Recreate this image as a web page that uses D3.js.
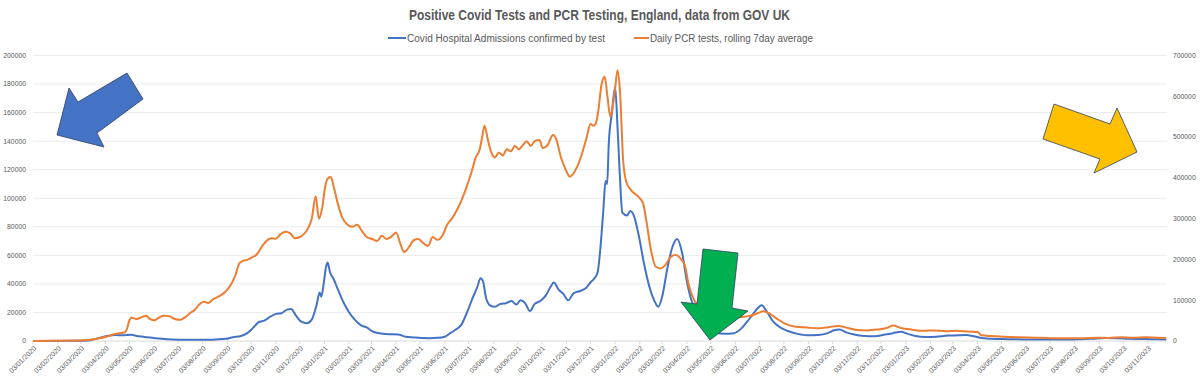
<!DOCTYPE html>
<html><head><meta charset="utf-8">
<script src="https://cdn.jsdelivr.net/npm/d3@7"></script>
<style>
html,body{margin:0;padding:0;background:#fff;}
svg{display:block;font-family:"Liberation Sans","DejaVu Sans",sans-serif;}
</style></head>
<body><svg id="c" width="1200" height="381"></svg>
<script>
const titleText = "Positive Covid Tests and PCR Testing, England, data from GOV UK";
const seriesNames = ["Covid Hospital Admissions confirmed by test", "Daily PCR tests, rolling 7day average"];
const leftTicks = [0,20000,40000,60000,80000,100000,120000,140000,160000,180000,200000];
const rightTicks = [0,100000,200000,300000,400000,500000,600000,700000];

// blue series (left axis)
const hospitalSeries = [
["2020-01-03",0],["2020-03-01",100],["2020-03-15",600],["2020-03-25",2000],["2020-04-05",3500],["2020-04-15",4200],["2020-04-25",4000],["2020-05-05",4300],["2020-05-15",3300],["2020-05-25",2600],["2020-06-05",1900],["2020-06-20",1200],["2020-07-05",900],["2020-07-20",800],["2020-08-05",900],["2020-08-20",1100],["2020-09-01",1500],["2020-09-10",2700],["2020-09-20",3500],["2020-09-28",5500],["2020-10-05",9000],["2020-10-12",13000],["2020-10-20",14500],["2020-10-27",17000],["2020-11-03",19000],["2020-11-10",19500],["2020-11-17",22000],["2020-11-22",22500],["2020-11-28",18000],["2020-12-05",13500],["2020-12-12",12500],["2020-12-18",15000],["2020-12-24",25000],["2020-12-28",34000],["2020-12-30",31000],["2021-01-02",40000],["2021-01-05",52000],["2021-01-07",55000],["2021-01-10",48000],["2021-01-14",44000],["2021-01-20",36000],["2021-01-27",27000],["2021-02-03",20000],["2021-02-10",15000],["2021-02-18",11000],["2021-02-25",9500],["2021-03-05",6500],["2021-03-15",5300],["2021-03-25",4700],["2021-04-05",4600],["2021-04-15",3000],["2021-04-25",2500],["2021-05-05",2100],["2021-05-15",2000],["2021-05-25",2200],["2021-06-03",3000],["2021-06-10",5500],["2021-06-17",8000],["2021-06-24",11500],["2021-07-01",20000],["2021-07-08",30000],["2021-07-14",38000],["2021-07-18",44000],["2021-07-21",42000],["2021-07-25",30000],["2021-07-30",25000],["2021-08-05",24000],["2021-08-12",26000],["2021-08-19",26500],["2021-08-26",28000],["2021-09-01",25500],["2021-09-06",28500],["2021-09-12",26500],["2021-09-18",21000],["2021-09-24",26000],["2021-10-01",28000],["2021-10-08",32000],["2021-10-14",38000],["2021-10-18",41000],["2021-10-24",36000],["2021-10-30",33000],["2021-11-05",28500],["2021-11-12",33500],["2021-11-20",35000],["2021-11-27",37000],["2021-12-03",41000],["2021-12-08",44000],["2021-12-12",48000],["2021-12-15",62000],["2021-12-19",90000],["2021-12-22",112000],["2021-12-24",110000],["2021-12-26",138000],["2021-12-30",160000],["2022-01-03",178000],["2022-01-06",150000],["2022-01-09",115000],["2022-01-12",90000],["2022-01-18",88000],["2022-01-22",91000],["2022-01-27",87000],["2022-02-02",73000],["2022-02-08",55000],["2022-02-15",38000],["2022-02-21",28500],["2022-02-26",24000],["2022-03-03",31000],["2022-03-10",52000],["2022-03-16",66000],["2022-03-22",71500],["2022-03-28",62000],["2022-04-03",42000],["2022-04-08",30000],["2022-04-14",22000],["2022-04-22",14000],["2022-05-01",8500],["2022-05-10",6000],["2022-05-20",5000],["2022-06-01",5500],["2022-06-10",8500],["2022-06-17",13000],["2022-06-24",18000],["2022-07-01",23000],["2022-07-06",25000],["2022-07-12",21000],["2022-07-20",14000],["2022-07-28",10000],["2022-08-08",7000],["2022-08-20",5000],["2022-09-01",4000],["2022-09-15",4200],["2022-09-27",5500],["2022-10-05",7500],["2022-10-12",8000],["2022-10-20",6000],["2022-10-30",4500],["2022-11-12",3500],["2022-11-25",3300],["2022-12-08",4500],["2022-12-18",5500],["2022-12-28",6500],["2023-01-05",5000],["2023-01-15",3500],["2023-01-28",2800],["2023-02-10",3000],["2023-02-25",3800],["2023-03-10",4000],["2023-03-20",4200],["2023-03-28",3500],["2023-04-06",2300],["2023-04-20",1600],["2023-05-10",1300],["2023-06-01",1100],["2023-07-01",1000],["2023-08-01",1100],["2023-08-25",1600],["2023-09-10",2100],["2023-09-25",2000],["2023-10-10",1600],["2023-10-25",1400],["2023-11-10",1200],["2023-11-26",1100]
];

// orange series (right axis)
const pcrSeries = [
["2020-01-03",0],["2020-03-01",1000],["2020-03-15",3000],["2020-03-25",6000],["2020-04-05",11000],["2020-04-15",17000],["2020-04-20",19000],["2020-04-27",21000],["2020-04-30",30000],["2020-05-03",50000],["2020-05-06",57000],["2020-05-12",54000],["2020-05-18",58000],["2020-05-24",62000],["2020-05-28",55000],["2020-06-03",51000],["2020-06-09",57000],["2020-06-15",62000],["2020-06-22",61000],["2020-06-29",54000],["2020-07-06",52000],["2020-07-12",58000],["2020-07-18",68000],["2020-07-24",76000],["2020-07-30",90000],["2020-08-05",96000],["2020-08-10",93000],["2020-08-16",102000],["2020-08-22",108000],["2020-08-28",115000],["2020-09-03",126000],["2020-09-08",140000],["2020-09-13",160000],["2020-09-18",190000],["2020-09-22",196000],["2020-09-28",199000],["2020-10-04",205000],["2020-10-10",212000],["2020-10-16",230000],["2020-10-22",245000],["2020-10-28",252000],["2020-11-03",251000],["2020-11-09",262000],["2020-11-15",268000],["2020-11-21",264000],["2020-11-27",252000],["2020-12-03",255000],["2020-12-08",262000],["2020-12-13",275000],["2020-12-18",300000],["2020-12-23",355000],["2020-12-27",300000],["2020-12-31",325000],["2021-01-04",380000],["2021-01-08",400000],["2021-01-11",402000],["2021-01-15",375000],["2021-01-20",335000],["2021-01-26",300000],["2021-02-01",285000],["2021-02-07",280000],["2021-02-13",285000],["2021-02-19",270000],["2021-02-25",255000],["2021-03-04",250000],["2021-03-10",245000],["2021-03-16",258000],["2021-03-22",250000],["2021-03-28",256000],["2021-04-03",266000],["2021-04-08",240000],["2021-04-13",218000],["2021-04-19",230000],["2021-04-25",247000],["2021-05-01",250000],["2021-05-07",240000],["2021-05-13",233000],["2021-05-19",255000],["2021-05-25",248000],["2021-05-31",258000],["2021-06-06",285000],["2021-06-12",300000],["2021-06-18",320000],["2021-06-24",345000],["2021-06-30",375000],["2021-07-06",410000],["2021-07-12",450000],["2021-07-17",470000],["2021-07-20",500000],["2021-07-23",528000],["2021-07-27",495000],["2021-07-31",465000],["2021-08-05",450000],["2021-08-10",462000],["2021-08-15",455000],["2021-08-20",470000],["2021-08-25",465000],["2021-08-30",478000],["2021-09-04",470000],["2021-09-09",480000],["2021-09-14",490000],["2021-09-19",478000],["2021-09-24",490000],["2021-09-30",493000],["2021-10-04",473000],["2021-10-10",480000],["2021-10-17",505000],["2021-10-21",495000],["2021-10-27",450000],["2021-11-02",420000],["2021-11-07",403000],["2021-11-13",415000],["2021-11-20",445000],["2021-11-24",470000],["2021-11-28",497000],["2021-12-03",532000],["2021-12-07",528000],["2021-12-10",535000],["2021-12-13",566000],["2021-12-17",630000],["2021-12-21",648000],["2021-12-24",605000],["2021-12-28",550000],["2021-12-31",575000],["2022-01-03",620000],["2022-01-06",664000],["2022-01-09",615000],["2022-01-13",445000],["2022-01-17",390000],["2022-01-23",370000],["2022-02-01",354000],["2022-02-07",338000],["2022-02-11",297000],["2022-02-17",223000],["2022-02-23",182000],["2022-03-01",178000],["2022-03-07",186000],["2022-03-14",207000],["2022-03-20",211000],["2022-03-27",200000],["2022-04-01",182000],["2022-04-05",141000],["2022-04-10",110000],["2022-04-17",85000],["2022-04-27",65000],["2022-05-10",52000],["2022-05-25",50000],["2022-06-08",58000],["2022-06-20",61000],["2022-07-01",68000],["2022-07-08",73000],["2022-07-16",67000],["2022-07-25",55000],["2022-08-05",42000],["2022-08-18",35000],["2022-09-01",33000],["2022-09-15",31000],["2022-09-28",34000],["2022-10-10",37000],["2022-10-22",32000],["2022-11-03",27000],["2022-11-15",26000],["2022-11-28",28000],["2022-12-10",32000],["2022-12-18",38000],["2022-12-28",32000],["2023-01-10",28000],["2023-01-25",25000],["2023-02-08",26000],["2023-02-22",24000],["2023-03-08",25000],["2023-03-22",23000],["2023-04-03",22000],["2023-04-08",14000],["2023-04-20",12000],["2023-05-05",10500],["2023-05-25",9000],["2023-06-15",8000],["2023-07-05",7000],["2023-07-25",6500],["2023-08-15",7000],["2023-09-01",8000],["2023-09-15",7500],["2023-10-01",9500],["2023-10-15",8000],["2023-11-01",9000],["2023-11-15",8000],["2023-11-26",7500]
];

const parse = d3.utcParse("%Y-%m-%d");
const fmt = d3.utcFormat("%d/%m/%Y");
const svg = d3.select("#c");
const L = 33, R = 1167, B = 341, T = 55.5;
const x = d3.scaleUtc().domain([parse("2020-01-03"), parse("2023-11-27")]).range([L, R]);
const yL = d3.scaleLinear().domain([0, 200000]).range([B, T]);
const yR = d3.scaleLinear().domain([0, 700000]).range([B, T]);
const labelColor = "#595959";

// gridlines
svg.append("g").selectAll("line").data(leftTicks.slice(1)).join("line")
  .attr("x1", L).attr("x2", R).attr("y1", d => yL(d)).attr("y2", d => yL(d))
  .attr("stroke", "#ebebeb").attr("stroke-width", 1);
svg.append("line").attr("x1", L).attr("x2", R).attr("y1", B).attr("y2", B)
  .attr("stroke", "#d9d9d9").attr("stroke-width", 1);

// left axis labels
svg.append("g").selectAll("text").data(leftTicks).join("text")
  .attr("x", 26).attr("y", d => yL(d)).attr("dy", "0.35em")
  .attr("text-anchor", "end").attr("font-size", 6.8).attr("fill", labelColor)
  .text(d => d);
// right axis labels
svg.append("g").selectAll("text").data(rightTicks).join("text")
  .attr("x", 1173).attr("y", d => yR(d)).attr("dy", "0.35em")
  .attr("text-anchor", "start").attr("font-size", 6.8).attr("fill", labelColor)
  .text(d => d);

// x ticks: 3rd of each month
const xTicks = d3.utcMonth.range(parse("2020-01-01"), parse("2023-11-02")).map(d => d3.utcDay.offset(d, 2));
svg.append("g").selectAll("line").data(xTicks).join("line")
  .attr("x1", d => x(d)).attr("x2", d => x(d)).attr("y1", B).attr("y2", B + 3)
  .attr("stroke", "#d9d9d9");
svg.append("g").selectAll("text").data(xTicks).join("text")
  .attr("transform", d => `translate(${x(d) + 2},${B + 6}) rotate(-45)`)
  .attr("text-anchor", "end").attr("dy", "0.35em")
  .attr("font-size", 7).attr("fill", labelColor)
  .text(d => fmt(d));

// lines
const hosp = hospitalSeries.map(d => ({date: parse(d[0]), v: d[1]}));
const pcr = pcrSeries.map(d => ({date: parse(d[0]), v: d[1]}));
const lineL = d3.line().x(d => x(d.date)).y(d => yL(d.v)).curve(d3.curveMonotoneX);
const lineR = d3.line().x(d => x(d.date)).y(d => yR(d.v)).curve(d3.curveMonotoneX);
svg.append("path").datum(hosp).attr("d", lineL).attr("fill", "none")
  .attr("stroke", "#4472C4").attr("stroke-width", 2).attr("stroke-linejoin", "round");
svg.append("path").datum(pcr).attr("d", lineR).attr("fill", "none")
  .attr("stroke", "#ED7D31").attr("stroke-width", 2).attr("stroke-linejoin", "round");

// title
svg.append("text").attr("x", 599.5).attr("y", 19.5).attr("text-anchor", "middle")
  .attr("font-size", 14).attr("font-weight", "bold").attr("fill", labelColor)
  .attr("textLength", 381).attr("lengthAdjust", "spacingAndGlyphs")
  .text(titleText);

// legend
const legend = [
  {name: seriesNames[0], color: "#4472C4", lx: 388, tx: 407, w: 198},
  {name: seriesNames[1], color: "#ED7D31", lx: 634, tx: 650, w: 163}
];
const lg = svg.append("g").selectAll("g").data(legend).join("g");
lg.append("line").attr("x1", d => d.lx).attr("x2", d => d.tx - 1).attr("y1", 38).attr("y2", 38)
  .attr("stroke", d => d.color).attr("stroke-width", 2);
lg.append("text").attr("x", d => d.tx).attr("y", 41.5).attr("font-size", 10)
  .attr("fill", labelColor).attr("textLength", d => d.w).attr("lengthAdjust", "spacingAndGlyphs")
  .text(d => d.name);

// annotation arrows
const arrows = [
  {fill: "#4472C4", pts: [[57,135],[69,88],[78,102],[127,73],[143,99],[97,133],[104,147]]},
  {fill: "#FFC000", pts: [[1137,152],[1094,173],[1100,159],[1043,139],[1054,104],[1110,124],[1117,108]]},
  {fill: "#00B050", pts: [[703,249],[738,253],[732,308],[748,311],[710,340],[681,302],[697,304]]}
];
svg.append("g").selectAll("polygon").data(arrows).join("polygon")
  .attr("points", d => d.pts.map(p => p.join(",")).join(" "))
  .attr("fill", d => d.fill).attr("stroke", "#2F3F5F").attr("stroke-width", 0.8);
</script></body></html>
